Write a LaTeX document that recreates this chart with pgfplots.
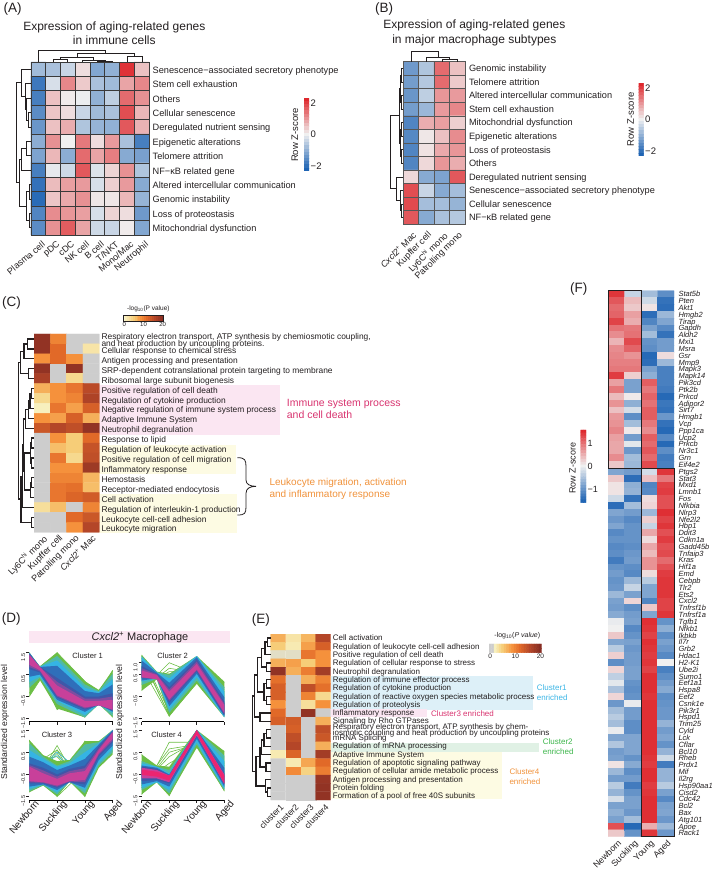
\documentclass[border=0pt]{standalone}
\usepackage{fontspec}
\setmainfont{Liberation Sans}
\usepackage{pgfplots}
\pgfplotsset{compat=1.18}
\definecolor{ink}{HTML}{231F20}
\definecolor{gridc}{HTML}{3A3A3A}
\definecolor{bpink}{HTML}{FBE6F2}
\definecolor{byel}{HTML}{FDFBE3}
\definecolor{bblue}{HTML}{DDF0F8}
\definecolor{bgreen}{HTML}{E0F1E5}
\definecolor{tpink}{HTML}{D8336F}
\definecolor{torange}{HTML}{F0923B}
\definecolor{tblue}{HTML}{3BB5E5}
\definecolor{tgreen}{HTML}{3CB54A}
\definecolor{cG}{HTML}{6CBE45}
\definecolor{cT}{HTML}{4FB9A8}
\definecolor{cC}{HTML}{35B4E4}
\definecolor{cB}{HTML}{2F6FBA}
\definecolor{cD}{HTML}{3F57A8}
\definecolor{cP}{HTML}{7E4DA0}
\definecolor{cM}{HTML}{C8409A}
\definecolor{cR}{HTML}{EC2570}
\newcommand\fs[1]{\fontsize{#1}{#1}\selectfont}
\pgfplotsset{
  colormap={zs}{rgb255=(31,100,180) rgb255=(240,240,240) rgb255=(222,40,45)},
  colormap={ho}{rgb255(0cm)=(250,245,205) rgb255(5cm)=(246,205,120) rgb255(9cm)=(245,145,60) rgb255(12cm)=(225,105,40) rgb255(16cm)=(180,70,40) rgb255(20cm)=(135,45,35)},
  colormap={hog}{rgb255(0cm)=(205,205,205) rgb255(1cm)=(205,205,205) rgb255(2cm)=(247,240,190) rgb255(5cm)=(246,205,120) rgb255(9cm)=(245,145,60) rgb255(12cm)=(225,105,40) rgb255(16cm)=(180,70,40) rgb255(20cm)=(135,45,35)},
  page/.style n args={4}{at={(0pt,0pt)},anchor=south west,width=714pt,height=870pt,scale only axis,
    hide axis,clip=false,y dir=reverse,xmin=#1,xmax=#2,ymin=#3,ymax=#4},
  table/grid/.style={header=false,row sep=\\,x expr={\coordindex-#1*floor((\coordindex+0.5)/#1)},y expr={floor((\coordindex+0.5)/#1)},meta index=0},
  hmcells/.style={matrix plot,mesh/cols=#1,point meta=explicit},
  hm/.style={anchor=south west,scale only axis,y dir=reverse,enlargelimits=false,
    major tick length=0pt,minor tick length=0pt,tick style={draw=none},
    yticklabel pos=right,
    xticklabel style={rotate=45,anchor=north east,inner sep=1pt,text=ink},
    yticklabel style={anchor=base west,text=ink,inner sep=0pt}},
  dend/.style={no marks,color=ink,line width=0.9pt,line join=miter},
  vbar/.style={anchor=south west,scale only axis,enlargelimits=false,major tick length=0pt,tick style={draw=none},
    y dir=normal,axis line style={draw=none},xtick=\empty,yticklabel pos=right,xmin=-0.5,xmax=1.5,ymin=-0.5,
    yticklabel style={text=ink,inner sep=1.5pt}},
  hbar/.style={anchor=south west,scale only axis,enlargelimits=false,major tick length=0pt,tick style={draw=none},
    ytick=\empty,xtick={0,10,20},xticklabel pos=lower,xmin=-0.5,xmax=20.5,ymin=-0.5,ymax=1.5,
    /pgf/number format/assume math mode=true,
    xticklabel style={text=ink,inner sep=1pt}},
  dax/.style={anchor=south west,scale only axis,xmin=0,xmax=3,width=83.4pt,height=69pt,
    axis x line*=bottom,axis y line*=left,y axis line style={draw=none},x axis line style={-,line width=.8pt},
    xtick={0,1,2,3},xticklabels={},tick align=outside,major tick length=3pt,clip=false,
    tick style={ink,line width=.6pt},
    yticklabel style={rotate=90,anchor=south,font=\fs{5.5},inner sep=1pt,text=ink,xshift=-4.5pt}},
  dlab/.style={xticklabels={Newborn,Suckling,Young,Aged},xticklabel style={rotate=50,anchor=north east,font=\fs{10},inner sep=1pt,text=ink,xshift=7pt}},
  sG/.style={cG,line width=.6pt,no marks},
  sC/.style={cC,line width=.5pt,no marks},
  fl/.style={fill=#1,draw=none,no marks},
}
\newcommand\dH[5]{\addplot[dend] coordinates {(#4,#2)(#1,#2)(#1,#3)(#5,#3)};}
\newcommand\dV[5]{\addplot[dend] coordinates {(#2,#4)(#2,#1)(#3,#1)(#3,#5)};}
\newcommand\gL[5]{\addplot[#1] coordinates {(0,#2)(1,#3)(2,#4)(3,#5)};}
\newcommand\bandF[5]{\addplot[fill=#1,draw=none] coordinates {(#2,#4)(#3,#4)(#3,#5)(#2,#5)} -- cycle;}
\newcommand\tX[3]{\node[anchor=west,inner sep=0pt,text=ink] at (axis cs:#1,#2) {#3};}
\begin{document}
\begin{tikzpicture}
\path[use as bounding box] (0pt,0pt) rectangle (714pt,870pt);

% ---------- (A)
\begin{axis}[hm,at={(31pt,635pt)},width=118pt,height=173pt,colormap name=zs,point meta min=-2.1,point meta max=2.1,
  xmin=-0.5,xmax=7.5,ymin=-0.5,ymax=11.5,
  axis on top,axis line style={gridc,line width=.8pt},grid=minor,minor grid style={gridc,line width=.7pt},
  xtick={0,...,7},ytick={0,...,11},
  minor xtick={0.5,1.5,...,6.5},minor ytick={0.5,1.5,...,10.5},
  xticklabels={Plasma cell,pDC,cDC,NK cell,B cell,T/NKT,Mono/Mac,Neutrophil},
  yticklabels={Senescence−associated secretory phenotype,Stem cell exhaustion,Others,Cellular senescence,Deregulated nutrient sensing,Epigenetic alterations,Telomere attrition,NF−κB related gene,Altered intercellular communication,Genomic instability,Loss of proteostasis,Mitochondrial dysfunction},
  xticklabel style={font=\fs{9},rotate=-5,yshift=-5pt},
  yticklabel style={font=\fs{9.2},xshift=3.5pt,yshift=-4pt}]
\addplot[hmcells=8] table[grid=8]{
-0.8\\-0.7\\-0.4\\0.2\\-1.1\\-0.95\\2.0\\0.5\\
-1.8\\-0.25\\1.1\\0.4\\-0.7\\-0.8\\0.8\\1.1\\
-1.7\\0.5\\0.05\\-0.05\\-0.95\\-0.5\\1.4\\1.0\\
-1.5\\0.45\\0.2\\-0.4\\-0.8\\-0.7\\1.7\\0.6\\
-1.35\\0.5\\0.7\\-0.65\\-0.9\\-0.95\\1.6\\0.65\\
-1.0\\1.0\\0.0\\1.25\\0.2\\0.9\\-0.7\\-1.7\\
-1.15\\0.6\\-1.0\\1.4\\0.8\\1.2\\-1.05\\-1.2\\
-1.7\\-0.1\\-0.35\\1.6\\-0.2\\0.3\\1.0\\-0.65\\
-1.9\\0.55\\0.85\\0.9\\-0.25\\0.35\\0.9\\-1.05\\
-2.0\\0.45\\0.75\\1.0\\0.1\\0.1\\0.6\\-0.9\\
-1.6\\1.05\\0.95\\0.85\\-0.25\\0.3\\0.2\\-1.3\\
-1.5\\1.0\\1.55\\0.8\\-0.35\\-0.4\\0.05\\-1.1\\};
\end{axis}
\begin{axis}[vbar,at={(304pt,699pt)},width=5pt,height=73pt,ymax=22.5,colormap name=zs,point meta min=-2.2,point meta max=2.2,
  ytick={1,11,21},yticklabels={2,0,−2},yticklabel style={font=\fs{9.5}}]
\addplot[hmcells=2] table[grid=2]{
2.2\\2.2\\2\\2\\1.8\\1.8\\1.6\\1.6\\1.4\\1.4\\1.2\\1.2\\1\\1\\0.8\\0.8\\0.6\\0.6\\0.4\\0.4\\0.2\\0.2\\0\\0\\
-0.2\\-0.2\\-0.4\\-0.4\\-0.6\\-0.6\\-0.8\\-0.8\\-1\\-1\\-1.2\\-1.2\\-1.4\\-1.4\\-1.6\\-1.6\\-1.8\\-1.8\\-2\\-2\\-2.2\\-2.2\\};
\end{axis}
\begin{axis}[page={0}{2142}{0}{2610}]
\dH{85}{338}{381}{92}{92}\dH{80}{294}{360}{92}{85}\dH{75}{251}{327}{92}{80}\dH{65}{208}{289}{92}{75}
\dH{78}{424}{467}{92}{92}\dH{65}{445}{510}{78}{92}\dH{88}{554}{597}{92}{92}\dH{88}{640}{683}{92}{92}
\dH{78}{575}{661}{88}{88}\dH{58}{478}{618}{65}{78}\dH{48}{248}{548}{65}{58}
\dV{178}{159}{203}{186}{186}\dV{183}{292}{337}{186}{186}\dV{180}{248}{315}{186}{183}\dV{172}{181}{281}{178}{180}
\dV{170}{381}{426}{186}{186}\dV{160}{231}{403}{172}{170}\dV{152}{114}{317}{186}{160}
\node[anchor=west,font=\fs{13.5},text=ink] at (axis cs:0,27) {(A)};
\node[font=\fs{12},text=ink,align=center] at (axis cs:343,99) {Expression of aging-related genes\\[2.2pt]in immune cells};
\node[rotate=90,font=\fs{9.5},text=ink] at (axis cs:885,405) {Row Z-score};
\end{axis}

% ---------- (B)
\begin{axis}[hm,at={(403.3pt,645.7pt)},width=61.7pt,height=162.6pt,colormap name=zs,point meta min=-2.1,point meta max=2.1,
  xmin=-0.5,xmax=3.5,ymin=-0.5,ymax=11.5,
  axis on top,axis line style={gridc!85,line width=.8pt},grid=minor,minor grid style={gridc!85,line width=.7pt},
  xtick={0,...,3},ytick={0,...,11},
  minor xtick={0.5,1.5,2.5},minor ytick={0.5,1.5,...,10.5},
  xticklabels={\textit{Cxcl2}\textsuperscript{+} Mac,Kupffer cell,Ly6C\textsuperscript{hi} mono,Patrolling mono},
  yticklabels={Genomic instability,Telomere attrition,Altered intercellular communication,Stem cell exhaustion,Mitochondrial dysfunction,Epigenetic alterations,Loss of proteostasis,Others,Deregulated nutrient sensing,Senescence−associated secretory phenotype,Cellular senescence,NF−κB related gene},
  xticklabel style={font=\fs{9},xshift=-3pt,yshift=-4pt},
  yticklabel style={font=\fs{9.2},xshift=3.8pt,yshift=-3.3pt}]
\addplot[hmcells=4] table[grid=4]{
-1.3\\-0.65\\1.4\\0.5\\
-1.25\\-0.6\\1.4\\0.4\\
-1.35\\-0.5\\0.95\\0.9\\
-1.25\\-0.85\\0.9\\1.1\\
-1.6\\0.7\\0.85\\0.35\\
-1.55\\0.1\\0.5\\1.05\\
-1.6\\0.15\\0.75\\0.95\\
-1.6\\0.25\\0.95\\0.7\\
0.25\\-1.05\\-1.15\\1.6\\
1.7\\-0.4\\-1.05\\-0.75\\
1.75\\-0.75\\-0.75\\-0.9\\
1.6\\-1.05\\-0.7\\-0.6\\};
\end{axis}
\begin{axis}[vbar,at={(638.5pt,714pt)},width=5pt,height=73pt,ymax=22.5,colormap name=zs,point meta min=-2.2,point meta max=2.2,
  ytick={1,11,21},yticklabels={2,0,−2},yticklabel style={font=\fs{9.5}}]
\addplot[hmcells=2] table[grid=2]{
2.2\\2.2\\2\\2\\1.8\\1.8\\1.6\\1.6\\1.4\\1.4\\1.2\\1.2\\1\\1\\0.8\\0.8\\0.6\\0.6\\0.4\\0.4\\0.2\\0.2\\0\\0\\
-0.2\\-0.2\\-0.4\\-0.4\\-0.6\\-0.6\\-0.8\\-0.8\\-1\\-1\\-1.2\\-1.2\\-1.4\\-1.4\\-1.6\\-1.6\\-1.8\\-1.8\\-2\\-2\\-2.2\\-2.2\\};
\end{axis}
\begin{axis}[page={-1080}{1062}{0}{2610}]
\dH{123}{205}{246}{130}{130}\dH{125}{287}{327}{130}{130}\dH{120}{225}{307}{123}{125}
\dH{125}{368}{409}{130}{130}\dH{125}{449}{490}{130}{130}\dH{122}{388}{470}{125}{125}\dH{118}{266}{429}{120}{122}
\dH{125}{612}{653}{130}{130}\dH{122}{571}{632}{130}{125}\dH{108}{531}{601}{130}{122}\dH{90}{347}{566}{118}{108}
\dV{178}{246}{292}{185}{185}\dV{172}{199}{269}{185}{178}\dV{155}{153}{234}{185}{172}
\node[anchor=west,font=\fs{13.5},text=ink] at (axis cs:35,27) {(B)};
\node[font=\fs{12},text=ink,align=center] at (axis cs:343,99) {Expression of aging-related genes\\[2.2pt]in major macrophage subtypes};
\node[rotate=90,font=\fs{9.5},text=ink] at (axis cs:812,358) {Row Z-score};
\end{axis}

% ---------- (C)
\begin{axis}[page={0}{2142}{-855}{1755}]
\bandF{bpink}{298}{840}{301}{450}
\bandF{byel}{298}{708}{480}{568}
\bandF{byel}{298}{712}{628}{745}
\end{axis}
\begin{axis}[hm,at={(34pt,337.7pt)},width=65.3pt,height=198.3pt,colormap name=hog,point meta min=0,point meta max=20,
  xmin=-0.5,xmax=3.5,ymin=-0.5,ymax=19.5,
  axis line style={draw=none},
  xtick={0,...,3},ytick={0,...,19},
  xticklabels={Ly6C\textsuperscript{hi} mono,Kupffer cell,Patrolling mono,\textit{Cxcl2}\textsuperscript{+} Mac},
  yticklabels={,Cellular response to chemical stress,Antigen processing and presentation,SRP-dependent cotranslational protein targeting to membrane,Ribosomal large subunit biogenesis,Positive regulation of cell death,Regulation of cytokine production,Negative regulation of immune system process,Adaptive Immune System,Neutrophil degranulation,Response to lipid,Regulation of leukocyte activation,Positive regulation of cell migration,Inflammatory response,Hemostasis,Receptor-mediated endocytosis,Cell activation,Regulation of interleukin-1 production,Leukocyte cell-cell adhesion,Leukocyte migration},
  xticklabel style={font=\fs{9}},
  yticklabel style={font=\fs{8.4},xshift=2pt,yshift=-4.6pt}]
\addplot[hmcells=4] table[grid=4]{
19\\10\\0\\0\\
19\\12\\0\\3\\
9\\12\\9\\0\\
19\\0\\19\\0\\
17\\0\\4\\0\\
7\\9\\11\\15.5\\
4\\9\\10\\16.5\\
2\\11\\8\\13\\
9\\8\\13\\7\\
14\\16\\15\\19\\
0\\9\\5\\12\\
0\\6\\5\\14.5\\
0\\11\\4\\15\\
0\\9\\9\\18\\
0\\10\\10\\6.5\\
0\\11\\11.5\\6\\
0\\11\\12.5\\13.5\\
3.5\\6\\0\\10\\
0\\0\\12\\14\\
0\\0\\9\\16\\};
\end{axis}
\begin{axis}[hbar,at={(123.3pt,549pt)},width=40.4pt,height=5.7pt,colormap name=ho,point meta min=0,point meta max=20,
  axis on top,axis line style={ink,line width=.6pt},xticklabel style={font=\fs{6}}]
\addplot[hmcells=21] table[grid=21]{
0\\1\\2\\3\\4\\5\\6\\7\\8\\9\\10\\11\\12\\13\\14\\15\\16\\17\\18\\19\\20\\
0\\1\\2\\3\\4\\5\\6\\7\\8\\9\\10\\11\\12\\13\\14\\15\\16\\17\\18\\19\\20\\};
\end{axis}
\begin{axis}[page={0}{2142}{-855}{1755}]
\tX{304}{158}{\fs{8.4}Respiratory electron transport, ATP synthesis by chemiosmotic coupling,}
\tX{304}{178}{\fs{8.4}and heat production by uncoupling proteins.}
\node[anchor=west,inner sep=0pt,font=\fs{13.5},text=ink] at (axis cs:6,55) {(C)};
\node[font=\fs{6.5},text=ink] at (axis cs:445,71) {-log\textsubscript{10}(P value)};
\node[anchor=west,inner sep=0pt,font=\fs{10.5},text=tpink,align=left] at (axis cs:860,372) {Immune system process\\[1.6pt]and cell death};
\node[anchor=west,inner sep=0pt,font=\fs{10},text=torange,align=left] at (axis cs:808,612) {Leukocyte migration, activation\\[1.6pt]and inflammatory response};
\draw[line width=.8pt,ink] (axis cs:712,518) .. controls (axis cs:735,518) and (axis cs:738,525) .. (axis cs:738,545) -- (axis cs:738,585) .. controls (axis cs:738,598) and (axis cs:750,604) .. (axis cs:768,604) .. controls (axis cs:750,604) and (axis cs:738,610) .. (axis cs:738,625) -- (axis cs:738,665) .. controls (axis cs:738,685) and (axis cs:735,690) .. (axis cs:712,690);
\end{axis}
\begin{axis}[page={-15}{2127}{-975}{1635},dend/.append style={line width=1.15pt}]
\dH{68}{42}{72}{87}{87}\dH{57}{57}{101}{68}{87}\dH{70}{131}{161}{87}{87}\dH{47}{79}{146}{57}{70}
\dH{80}{191}{220}{87}{87}\dH{75}{205}{250}{80}{87}\dH{70}{228}{280}{75}{87}\dH{62}{254}{310}{70}{87}
\dH{80}{339}{369}{87}{87}\dH{80}{399}{429}{87}{87}\dH{80}{458}{488}{87}{87}\dH{76}{354}{414}{80}{80}\dH{76}{473}{518}{80}{87}\dH{58}{384}{495}{76}{76}
\dH{55}{282}{440}{62}{58}\dH{52}{360}{548}{55}{87}\dH{80}{577}{607}{87}{87}\dH{48}{454}{592}{52}{80}\dH{40}{112}{522}{47}{48}
\end{axis}

% ---------- (D)
\begin{axis}[page={0}{2142}{-1710}{900}]
\bandF{bpink}{88}{691}{183}{218}
\node[font=\fs{11},text=ink] at (axis cs:420,202) {\textit{Cxcl2}\textsuperscript{+} Macrophage};
\node[rotate=90,font=\fs{8.6},text=ink] at (axis cs:15,457) {Standardized expression level};
\node[rotate=90,font=\fs{8.6},text=ink] at (axis cs:360,457) {Standardized expression level};
\node[anchor=west,inner sep=0pt,font=\fs{13.5},text=ink] at (axis cs:5,148) {(D)};
\end{axis}
% cluster 1
\begin{axis}[dax,at={(29.3pt,148.3pt)},ymin=-1.65,ymax=1.5,ytick={-1.5,-0.5,0.5,1.5},yticklabels={−1.5,−0.5,0.5,1.5}]
\gL{sG}{1.5}{-1.1}{-0.4}{-0.9}\gL{sG}{1.45}{-0.85}{-1.45}{0.7}\gL{sG}{1.3}{-1.05}{-1.0}{0.55}\gL{sG}{-0.5}{1.45}{-0.6}{-0.3}
\gL{sG}{-0.35}{1.5}{0.2}{-1.45}\gL{sG}{0.2}{1.4}{0.15}{-1.4}\gL{sG}{0.1}{1.3}{-0.1}{-1.3}\gL{sG}{0.45}{1.5}{-0.3}{-1.0}\gL{sG}{1.2}{-0.85}{-1.4}{0.65}
\addplot[fl=cG] coordinates {(0,1.5)(.38,.88)(1,1.5)(2,.2)(2.5,-.2)(3,.7)(3,-1.45)(2.5,-.85)(2,-1.45)(1,-1.05)(.38,.25)(0,-.5)} -- cycle;
\addplot[fl=cT] coordinates {(0,1.5)(.38,.87)(1,1.35)(2,.05)(2.5,-.25)(3,.55)(3,-1.4)(2.5,-.85)(2,-1.45)(1,-.85)(.38,.35)(0,-.1)} -- cycle;
\addplot[fl=cC] coordinates {(0,1.5)(.38,.86)(1,1.15)(2,-.1)(2.5,-.3)(3,.3)(3,-1.25)(2.5,-.85)(2,-1.35)(1,-.7)(.38,.42)(0,.15)} -- cycle;
\addplot[fl=cB] coordinates {(0,1.5)(.38,.85)(1,.9)(2,-.25)(2.5,-.35)(3,.05)(3,-1.2)(2.5,-.85)(2,-1.2)(1,-.65)(.38,.5)(0,.4)} -- cycle;
\addplot[fl=cD] coordinates {(0,1.45)(.38,.85)(1,.35)(2,-.5)(2.5,-.5)(3,-.35)(3,-1.15)(2.5,-.9)(2,-1.1)(1,-.55)(.38,.6)(0,.75)} -- cycle;
\addplot[fl=cP] coordinates {(0,1.42)(.38,.85)(1,.17)(2,-.6)(2.5,-.6)(3,-.5)(3,-1.12)(2.5,-.9)(2,-1.05)(1,-.5)(.38,.65)(0,.85)} -- cycle;
\addplot[fl=cM] coordinates {(0,1.4)(.38,.85)(1,0)(2,-.7)(2.5,-.7)(3,-.65)(3,-1.1)(2.5,-.9)(2,-1)(1,-.45)(.38,.7)(0,.95)} -- cycle;
\end{axis}
\begin{axis}[page={0}{2142}{-1710}{900}]
\node[font=\fs{7.6},text=ink] at (axis cs:263,257) {Cluster 1};
\node[font=\fs{7.6},text=ink] at (axis cs:518,257) {Cluster 2};
\end{axis}
% cluster 2
\begin{axis}[dax,at={(141.7pt,148.3pt)},width=82.6pt,ymin=-1.65,ymax=1.45,ytick={-1.5,-0.5,0.5,1.0},yticklabels={−1.5,−0.5,0.5,1.0}]
\gL{sG}{1.3}{-1.4}{0.9}{-0.85}\gL{sG}{-0.25}{1.0}{0.5}{-1.3}\gL{sG}{-0.2}{0.75}{0.55}{-0.3}\gL{sG}{-0.1}{0.6}{0.6}{0.1}\gL{sG}{1.2}{-1.35}{0.4}{-0.1}\gL{sG}{0.0}{0.5}{0.1}{-0.1}\gL{sG}{1.35}{-1.2}{0.6}{-0.2}\gL{sG}{0.8}{-1.4}{0.1}{-0.5}
\addplot[fl=cG] coordinates {(0,1.35)(.55,.6)(1,.5)(2,1.3)(3,.15)(3,-1.45)(2,.05)(1,-1.4)(.55,.25)(0,-.25)} -- cycle;
\addplot[fl=cT] coordinates {(0,1.3)(.55,.58)(1,.45)(2,1.3)(3,-.1)(3,-1.45)(2,.2)(1,-1.25)(.55,.28)(0,0)} -- cycle;
\addplot[fl=cC] coordinates {(0,1.25)(.55,.56)(1,.3)(2,1.3)(3,-.3)(3,-1.45)(2,.35)(1,-1.1)(.55,.3)(0,.15)} -- cycle;
\addplot[fl=cB] coordinates {(0,1.1)(.55,.55)(1,.1)(2,1.25)(3,-.55)(3,-1.4)(2,.5)(1,-.95)(.55,.3)(0,.2)} -- cycle;
\addplot[fl=cD] coordinates {(0,.85)(.55,.5)(1,-.1)(2,1.15)(3,-.75)(3,-1.35)(2,.6)(1,-.8)(.55,.3)(0,.3)} -- cycle;
\addplot[fl=cP] coordinates {(0,.75)(.55,.48)(1,-.2)(2,1.05)(3,-.83)(3,-1.3)(2,.65)(1,-.72)(.55,.28)(0,.32)} -- cycle;
\addplot[fl=cM] coordinates {(0,.65)(.55,.45)(1,-.3)(2,.95)(3,-.9)(3,-1.25)(2,.7)(1,-.65)(.55,.25)(0,.35)} -- cycle;
\end{axis}
% cluster 3
\begin{axis}[dax,dlab,at={(29.3pt,70pt)},height=70pt,ymin=-1.65,ymax=1.5,ytick={-1.5,-0.5,0.5,1.5},yticklabels={−1.5,−0.5,0.5,1.5}]
\gL{sG}{1.05}{-1.5}{-0.3}{0.9}\gL{sG}{1.0}{-1.45}{1.0}{0.55}\gL{sG}{-1.3}{0.8}{-1.4}{1.45}\gL{sG}{-1.1}{0.6}{-1.5}{1.5}\gL{sG}{-0.9}{0.45}{-1.3}{1.4}\gL{sG}{-0.2}{0.6}{-0.8}{1.3}\gL{sG}{0.1}{0.3}{-1.0}{1.4}
\gL{sC}{-0.6}{0.5}{-0.5}{1.2}\gL{sC}{-0.4}{0.35}{-0.7}{1.3}
\addplot[fl=cG] coordinates {(0,1.05)(.5,.37)(1,.1)(1.45,.15)(2,1)(2.5,1)(3,1.5)(3,.4)(2.5,-.2)(2,-1.5)(1.45,-.82)(1,-1.5)(.5,-1)(0,-1.3)} -- cycle;
\addplot[fl=cT] coordinates {(0,.9)(.5,.3)(1,-.1)(1.45,.1)(2,.85)(2.5,.95)(3,1.5)(3,.5)(2.5,-.1)(2,-1.35)(1.45,-.82)(1,-1.4)(.5,-.98)(0,-1.25)} -- cycle;
\addplot[fl=cC] coordinates {(0,.6)(.5,.2)(1,-.15)(1.45,0)(2,.5)(2.5,.9)(3,1.5)(3,.65)(2.5,0)(2,-1.2)(1.45,-.82)(1,-1.3)(.5,-.95)(0,-1.15)} -- cycle;
\addplot[fl=cB] coordinates {(0,.3)(.5,.05)(1,-.3)(1.45,-.1)(2,.2)(2.5,.85)(3,1.5)(3,.8)(2.5,.15)(2,-1.1)(1.45,-.85)(1,-1.2)(.5,-.95)(0,-1.05)} -- cycle;
\addplot[fl=cD] coordinates {(0,0)(.5,-.2)(1,-.5)(1.45,-.25)(2,-.1)(2.5,.75)(3,1.45)(3,.95)(2.5,.3)(2,-.95)(1.45,-.85)(1,-1.1)(.5,-.9)(0,-.9)} -- cycle;
\addplot[fl=cP] coordinates {(0,-.08)(.5,-.32)(1,-.6)(1.45,-.35)(2,-.22)(2.5,.68)(3,1.42)(3,1.02)(2.5,.38)(2,-.85)(1.45,-.82)(1,-1.05)(.5,-.88)(0,-.85)} -- cycle;
\addplot[fl=cM] coordinates {(0,-.15)(.5,-.45)(1,-.7)(1.45,-.45)(2,-.35)(2.5,.6)(3,1.4)(3,1.1)(2.5,.45)(2,-.75)(1.45,-.8)(1,-1)(.5,-.85)(0,-.8)} -- cycle;
\end{axis}
% cluster 4
\begin{axis}[dax,dlab,at={(141.7pt,70pt)},width=82.6pt,height=70pt,ymin=-1.65,ymax=1.5,ytick={-1.5,-0.5,0.5,1.5},yticklabels={−1.5,−0.5,0.5,1.5}]
\gL{sG}{0.4}{-1.45}{1.15}{-0.6}\gL{sG}{-1.4}{0.95}{0.95}{-0.5}\gL{sG}{-1.0}{0.65}{0.85}{-0.4}\gL{sG}{-1.1}{0.5}{0.85}{-0.1}\gL{sG}{-1.0}{0.3}{1.0}{0}\gL{sG}{-0.9}{0.0}{0.7}{0.55}\gL{sG}{-0.1}{-1.45}{1.0}{-1.25}
\addplot[fl=cG] coordinates {(0,.4)(.55,-.1)(1,-.15)(2,1.5)(3,.55)(3,-1.25)(2,.7)(1,-1.45)(.55,-.85)(0,-1.4)} -- cycle;
\addplot[fl=cT] coordinates {(0,.1)(.55,-.15)(1,-.3)(2,1.5)(3,.35)(3,-1.2)(2,.85)(1,-1.35)(.55,-.85)(0,-1.2)} -- cycle;
\addplot[fl=cC] coordinates {(0,0)(.55,-.15)(1,-.45)(2,1.5)(3,.1)(3,-1.15)(2,.95)(1,-1.2)(.55,-.85)(0,-1.1)} -- cycle;
\addplot[fl=cB] coordinates {(0,-.1)(.55,-.2)(1,-.5)(2,1.5)(3,-.2)(3,-1.05)(2,1.1)(1,-1.05)(.55,-.8)(0,-.95)} -- cycle;
\addplot[fl=cD] coordinates {(0,-.15)(.55,-.25)(1,-.55)(2,1.5)(3,-.45)(3,-.95)(2,1.2)(1,-.9)(.55,-.75)(0,-.8)} -- cycle;
\addplot[fl=cM] coordinates {(0,-.2)(.55,-.3)(1,-.55)(2,1.5)(3,-.5)(3,-.93)(2,1.25)(1,-.85)(.55,-.68)(0,-.68)} -- cycle;
\addplot[fl=cR] coordinates {(0,-.28)(.55,-.38)(1,-.55)(2,1.5)(3,-.55)(3,-.9)(2,1.3)(1,-.78)(.55,-.6)(0,-.52)} -- cycle;
\end{axis}
\begin{axis}[page={0}{2142}{-1710}{900}]
\node[font=\fs{7.6},text=ink] at (axis cs:171,495) {Cluster 3};
\node[font=\fs{7.6},text=ink] at (axis cs:500,495) {Cluster 4};
\end{axis}

% ---------- (E)
\begin{axis}[page={-750}{1392}{-1770}{840}]
\bandF{bblue}{242}{850}{258}{360}
\bandF{bpink}{242}{530}{358}{380}
\bandF{byel}{242}{755}{482}{628}
\bandF{bgreen}{242}{868}{460}{486}
\end{axis}
\begin{axis}[hm,at={(270.7pt,70pt)},width=60pt,height=166pt,colormap name=hog,point meta min=0,point meta max=20,
  xmin=-0.5,xmax=3.5,ymin=-0.5,ymax=19.5,
  axis line style={draw=none},
  xtick={0,...,3},ytick={0,...,19},
  xticklabels={cluster1,cluster2,cluster3,cluster4},
  yticklabels={Cell activation,Regulation of leukocyte cell-cell adhesion,Positive regulation of cell death,Regulation of cellular response to stress,Neutrophil degranulation,Regulation of immune effector process,Regulation of cytokine production,Regulation of reactive oxygen species metabolic process,Regulation of proteolysis,Inflammatory response,Signaling by Rho GTPases,,mRNA Splicing,Regulation of mRNA processing,Adaptive Immune System,Regulation of apoptotic signaling pathway,Regulation of cellular amide metabolic process,Antigen processing and presentation,Protein folding,Formation of a pool of free 40S subunits},
  xticklabel style={font=\fs{8.6},yshift=-2.5pt},
  yticklabel style={font=\fs{8},xshift=2pt,yshift=-2.8pt}]
\addplot[hmcells=4] table[grid=4]{
7\\3\\6.5\\16\\
5\\2.5\\8\\13\\
1.5\\1.5\\11\\9\\
7\\8\\5\\9\\
19\\7\\10.5\\17.5\\
11.5\\0\\7\\10\\
13\\0\\15\\11.5\\
13\\0\\10\\4\\
9\\0\\3.5\\9\\
12\\0\\19\\0\\
13\\13.5\\0\\7\\
0\\13\\0\\15\\
0\\15\\0\\14\\
0\\16\\0\\7\\
2.5\\12.5\\0\\17.5\\
0\\2.5\\7.5\\12\\
0\\9.5\\4.5\\10.5\\
0\\0\\0\\18.5\\
0\\0\\0\\19\\
0\\0\\0\\19\\};
\end{axis}
\begin{axis}[hbar,at={(489pt,217.3pt)},width=52.7pt,height=8.7pt,colormap name=hog,point meta min=0,point meta max=20,
  axis line style={draw=none},xticklabel style={font=\fs{6.5}}]
\addplot[hmcells=21] table[grid=21]{
0\\1\\2\\3\\4\\5\\6\\7\\8\\9\\10\\11\\12\\13\\14\\15\\16\\17\\18\\19\\20\\
0\\1\\2\\3\\4\\5\\6\\7\\8\\9\\10\\11\\12\\13\\14\\15\\16\\17\\18\\19\\20\\};
\end{axis}
\begin{axis}[page={-750}{1392}{-1770}{840},dend/.append style={line width=1.15pt}]
\dH{52}{144}{169}{62}{62}\dH{45}{156}{194}{52}{62}\dH{50}{219}{244}{62}{62}\dH{35}{175}{231}{45}{50}
\dH{50}{269}{294}{62}{62}\dH{50}{319}{344}{62}{62}\dH{42}{281}{331}{50}{50}\dH{22}{203}{306}{35}{42}
\dH{30}{369}{394}{62}{62}\dH{13}{255}{381}{22}{30}
\dH{50}{419}{444}{62}{62}\dH{42}{431}{469}{50}{62}\dH{35}{450}{494}{42}{62}\dH{48}{519}{544}{62}{62}\dH{30}{472}{531}{35}{48}
\dH{52}{594}{619}{62}{62}\dH{46}{569}{606}{62}{52}\dH{18}{500}{588}{30}{46}\dH{8}{318}{544}{13}{18}
\tX{248}{412}{\fs{8}Respiratory electron transport, ATP synthesis by chem-}
\tX{248}{430}{\fs{8}iosmotic coupling and heat production by uncoupling proteins}
\node[anchor=west,inner sep=0pt,font=\fs{13.5},text=ink] at (axis cs:5,90) {(E)};
\node[font=\fs{7},text=ink] at (axis cs:802,138) {-log\textsubscript{10}(\textit{P value})};
\node[anchor=west,inner sep=0pt,font=\fs{8},text=tblue,align=left] at (axis cs:860,308) {Cluster1\\[2.2pt]enriched};
\node[anchor=west,inner sep=0pt,font=\fs{8},text=tpink] at (axis cs:543,370) {Cluster3 enriched};
\node[anchor=west,inner sep=0pt,font=\fs{8},text=tgreen,align=left] at (axis cs:878,469) {Cluster2\\[2.2pt]enriched};
\node[anchor=west,inner sep=0pt,font=\fs{8},text=torange,align=left] at (axis cs:778,561) {Cluster4\\[2.2pt]enriched};
\end{axis}

% ---------- (F)
\begin{axis}[hm,at={(608pt,33.3pt)},width=66pt,height=546pt,colormap name=zs,point meta min=-1.5,point meta max=1.5,
  xmin=-0.5,xmax=3.5,ymin=-0.5,ymax=79.5,
  axis line style={draw=none},
  xtick={0,...,3},ytick={0,...,79},
  xticklabels={Newborn,Suckling,Young,Aged},
  yticklabels={Stat5b,Pten,Akt1,Hmgb2,Tirap,Gapdh,Aldh2,Mxi1,Msra,Gsr,Mmp9,Mapk3,Mapk14,Pik3cd,Ptk2b,Prkcd,Adipor2,Sirt7,Hmgb1,Vcp,Ppp1ca,Ucp2,Prkcb,Nr3c1,Grn,Eif4e2,Ptgs2,Stat3,Mxd1,Lmnb1,Fos,Nfkbia,Nlrp3,Nfe2l2,Hbp1,Ddit3,Cdkn1a,Gadd45b,Tnfaip3,Kras,Hif1a,Emd,Cebpb,Tlr2,Ets2,Cxcl2,Tnfrsf1b,Tnfrsf1a,Tgfb1,Nfkb1,Ikbkb,Il7r,Grb2,Hdac1,H2-K1,Ube2i,Sumo1,Eef1a1,Hspa8,Eef2,Csnk1e,Pik3r1,Hspd1,Trim25,Cyld,Lck,Cflar,Bcl10,Rheb,Prdx1,Mif,Il2rg,Hsp90aa1,Cisd2,Cdc42,Bcl2,Bax,Atg101,Apoe,Rack1},
  xticklabel style={font=\fs{8.8},yshift=-1.5pt},
  yticklabel style={font=\fs{7.5}\itshape,xshift=4.3pt,yshift=-2.7pt}]
\addplot[hmcells=4] table[grid=4]{
1.4\\-0.3\\-0.55\\-1.05\\
1.15\\0.4\\-0.25\\-1.35\\
1.0\\0.3\\0.1\\-1.4\\
1.05\\0.6\\-1.4\\-0.6\\
1.3\\0.5\\-1.15\\-0.8\\
0.95\\0.9\\-0.85\\-1.1\\
0.75\\0.95\\-0.55\\-1.35\\
0.45\\1.25\\-1.0\\-0.9\\
0.75\\1.05\\-1.05\\-0.9\\
0.8\\0.7\\-1.45\\0.15\\
0.85\\0.85\\-1.4\\-0.6\\
0.9\\0.9\\-0.85\\-1.2\\
1.35\\0.25\\-0.7\\-1.2\\
0.6\\-0.85\\1.1\\-1.2\\
0.9\\-0.85\\0.9\\-1.25\\
0.4\\0.05\\1.05\\-1.45\\
0.7\\-0.7\\0.95\\-1.3\\
0.35\\-0.2\\1.1\\-1.35\\
0.65\\-1.05\\1.1\\-0.95\\
0.7\\-0.55\\0.9\\-1.35\\
0.8\\0.05\\0.75\\-1.45\\
0.6\\-0.9\\1.1\\-1.1\\
0.55\\-0.1\\1.0\\-1.45\\
0.55\\-0.95\\1.15\\-1.05\\
0.75\\-0.55\\1.0\\-1.25\\
0.3\\-0.6\\1.25\\-1.2\\
-0.8\\-0.9\\-0.2\\1.4\\
0.3\\-1.4\\0.35\\0.9\\
0.1\\-0.7\\-1.15\\1.3\\
0.1\\-0.65\\-1.1\\1.35\\
-0.25\\-1.35\\0.15\\1.2\\
-1.4\\-0.55\\0.2\\1.2\\
-0.8\\-0.9\\-0.6\\1.45\\
-0.95\\-1.1\\0.25\\1.3\\
-0.8\\-1.0\\-0.3\\1.4\\
-1.1\\-1.0\\0.55\\1.2\\
-1.0\\-1.0\\0.15\\1.35\\
-1.1\\-1.05\\0.55\\1.2\\
-1.05\\-0.95\\0.4\\1.25\\
-1.25\\-0.9\\0.7\\1.0\\
-1.0\\-1.05\\0.7\\1.2\\
-0.9\\-1.1\\0.15\\1.35\\
-1.0\\-0.6\\-0.4\\1.4\\
-0.95\\-0.3\\-0.8\\1.4\\
-0.6\\-0.85\\-0.8\\1.4\\
-0.85\\0.2\\-1.15\\1.3\\
-0.9\\-1.05\\0.3\\1.3\\
-0.75\\-0.9\\-0.8\\1.4\\
-0.05\\-0.85\\1.45\\-1.0\\
0\\-1.1\\1.4\\-0.7\\
0.3\\-1.0\\1.3\\-1.05\\
-0.8\\-0.85\\1.45\\-0.85\\
-0.4\\-0.95\\1.4\\-0.95\\
0.25\\-0.9\\1.35\\-1.1\\
-1.05\\-0.9\\1.4\\0\\
0.2\\-0.85\\1.3\\-1.2\\
-0.35\\-0.85\\1.45\\-1.05\\
-0.1\\-1.0\\1.45\\-0.9\\
-0.5\\-1.05\\1.45\\-0.75\\
0.2\\-1.0\\1.4\\-1.05\\
-0.95\\-0.05\\1.45\\-1.0\\
-0.55\\-0.9\\1.45\\-0.95\\
-0.4\\-0.9\\1.45\\-0.95\\
-0.55\\-1.05\\1.45\\-0.65\\
-0.05\\-1.05\\1.45\\-0.9\\
-0.8\\-0.8\\1.45\\-0.8\\
-0.45\\-0.8\\1.45\\-1.0\\
-0.9\\-0.8\\1.45\\-0.65\\
-0.85\\-1.0\\1.4\\-0.25\\
0.1\\-0.75\\1.35\\-1.25\\
-0.6\\-1.05\\1.45\\-0.65\\
-0.9\\-0.9\\1.45\\-0.65\\
-0.4\\-1.25\\1.35\\-0.4\\
-0.65\\-1.0\\1.4\\-0.85\\
-0.2\\-0.85\\1.45\\-1.1\\
-0.85\\-0.85\\1.45\\-0.85\\
-0.7\\-0.95\\1.45\\-0.8\\
-0.85\\-0.55\\1.45\\-0.95\\
1.2\\-1.45\\0.5\\-0.6\\
0.3\\-1.0\\1.4\\-0.95\\};
\end{axis}
\begin{axis}[vbar,at={(580.7pt,367.3pt)},width=5.3pt,height=72.7pt,ymax=24.5,colormap name=zs,point meta min=-1.5,point meta max=1.5,
  ytick={4,12,20},yticklabels={1,0,−1},yticklabel style={font=\fs{9}}]
\addplot[hmcells=2] table[grid=2]{
1.5\\1.5\\1.375\\1.375\\1.25\\1.25\\1.125\\1.125\\1\\1\\0.875\\0.875\\0.75\\0.75\\0.625\\0.625\\0.5\\0.5\\0.375\\0.375\\0.25\\0.25\\0.125\\0.125\\
0\\0\\-0.125\\-0.125\\-0.25\\-0.25\\-0.375\\-0.375\\-0.5\\-0.5\\-0.625\\-0.625\\-0.75\\-0.75\\-0.875\\-0.875\\-1\\-1\\-1.125\\-1.125\\-1.25\\-1.25\\-1.375\\-1.375\\-1.5\\-1.5\\};
\end{axis}
\begin{axis}[page={-1710}{432}{-840}{1770}]
\addplot[ink,line width=1pt,no marks] coordinates {(114,32)(213,32)(213,565)(114,565)} -- cycle;
\addplot[ink,line width=1pt,no marks] coordinates {(213,565)(312,565)(312,1670)(213,1670)} -- cycle;
\node[anchor=west,inner sep=0pt,font=\fs{13.5},text=ink] at (axis cs:0,28) {(F)};
\node[rotate=90,font=\fs{9},text=ink] at (axis cs:8,565) {Row Z-score};
\end{axis}
\end{tikzpicture}
\end{document}
